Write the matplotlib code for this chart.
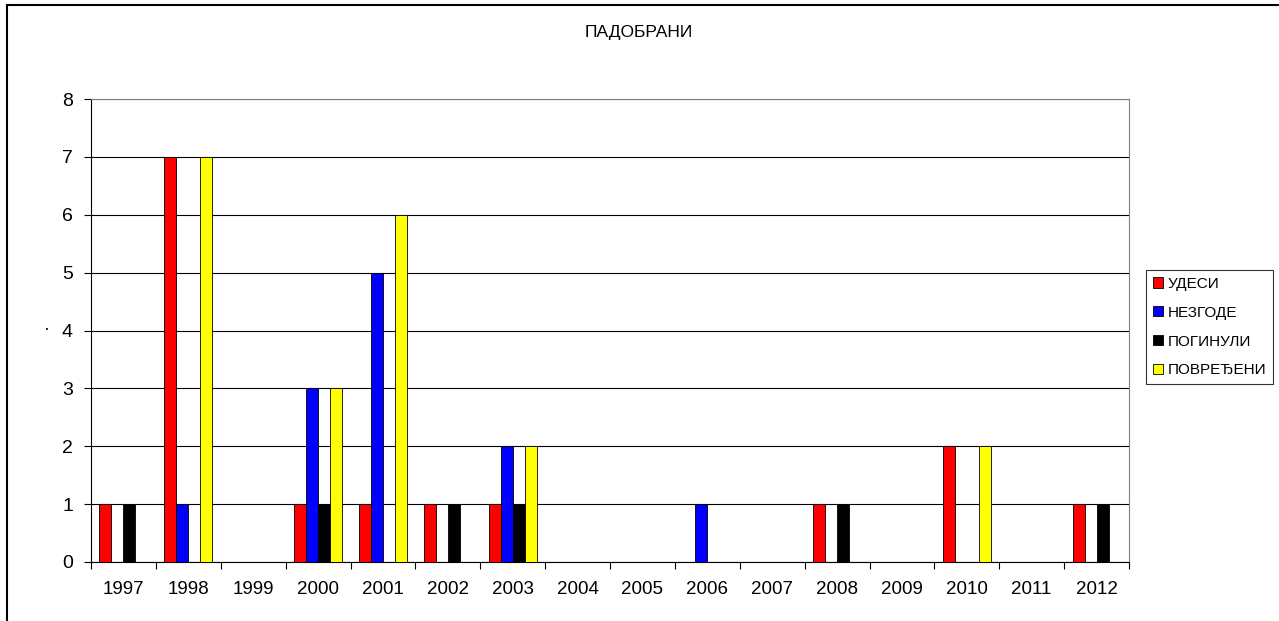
import matplotlib.pyplot as plt
import numpy as np
from matplotlib.patches import Rectangle

plt.rcParams['font.family'] = ['Liberation Sans', 'DejaVu Sans']

years = ['1997', '1998', '1999', '2000', '2001', '2002', '2003', '2004',
         '2005', '2006', '2007', '2008', '2009', '2010', '2011', '2012']
udesi = [1, 7, 0, 1, 1, 1, 1, 0, 0, 0, 0, 1, 0, 2, 0, 1]
nezgode = [0, 1, 0, 3, 5, 0, 2, 0, 0, 1, 0, 0, 0, 0, 0, 0]
poginuli = [1, 0, 0, 1, 0, 1, 1, 0, 0, 0, 0, 1, 0, 0, 0, 1]
povredjeni = [0, 7, 0, 3, 6, 0, 2, 0, 0, 0, 0, 0, 0, 2, 0, 0]

series = [('УДЕСИ', udesi, '#ff0000'),
          ('НЕЗГОДЕ', nezgode, '#0000ff'),
          ('ПОГИНУЛИ', poginuli, '#000000'),
          ('ПОВРЕЂЕНИ', povredjeni, '#ffff00')]

fig = plt.figure(figsize=(12.79, 6.21), dpi=100)
W, H = 1279, 621
ax = fig.add_axes([91 / W, 1 - 562 / H, (1129 - 91) / W, (562 - 99) / H])

x = np.arange(len(years))
w = 0.185
for i, (name, vals, col) in enumerate(series):
    ax.bar(x + (i - 1.5) * w, vals, w, color=col, edgecolor='black',
           linewidth=0.6, label=name, zorder=3)

ax.set_xlim(-0.5, len(years) - 0.5)
ax.set_ylim(0, 8)
ax.set_yticks(range(0, 9))
ax.set_xticks(x)
ax.set_xticklabels(years)
ax.set_xticks(np.arange(-0.5, len(years)), minor=True)
ax.tick_params(axis='x', which='major', length=0, pad=14, labelsize=13.5)
ax.tick_params(axis='x', which='minor', length=5, direction='out', width=0.8)
ax.tick_params(axis='y', length=5, width=0.8, labelsize=14, pad=8)
ax.grid(axis='y', color='black', linewidth=0.8, zorder=0)

for s in ['top', 'right']:
    ax.spines[s].set_color('#808080')
for s in ['left', 'bottom']:
    ax.spines[s].set_color('black')

fig.text(639 / W, 1 - 33 / H, 'ПАДОБРАНИ', ha='center', va='center', fontsize=12.5)
fig.text(47 / W, 1 - 329 / H, '·', ha='center', va='center', fontsize=13)

leg = ax.legend(loc='upper left', bbox_to_anchor=(1146 / W, 1 - 270 / H),
                bbox_transform=fig.transFigure, fontsize=11, frameon=True,
                fancybox=False, edgecolor='black', handlelength=0.65,
                handleheight=0.65, handletextpad=0.3, labelspacing=0.97,
                borderpad=0.45, borderaxespad=0)
leg.get_frame().set_linewidth(0.8)

fig.patches.append(Rectangle((7 / W, -0.1), 1.2, 1 - 5 / H + 0.1,
                             transform=fig.transFigure, fill=False,
                             edgecolor='black', linewidth=1.5))

fig.savefig('out.png', dpi=100)
